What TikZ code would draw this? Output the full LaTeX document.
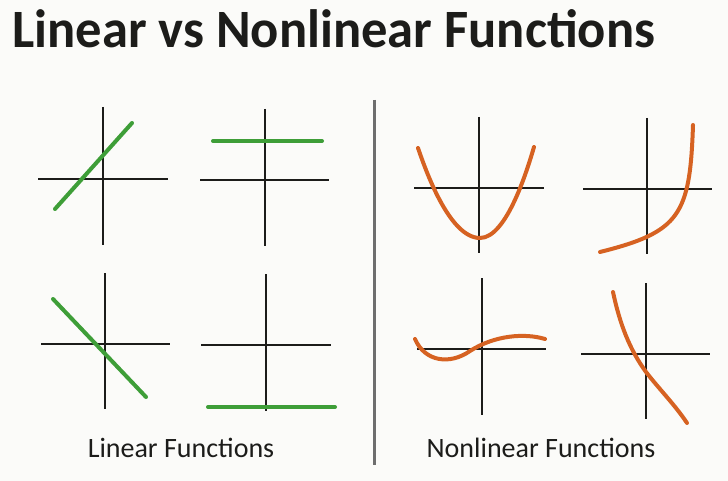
\documentclass[tikz,border=0pt]{standalone}
\usepackage{fontspec}
\setmainfont{Carlito}
\usepackage{tikz}
\usetikzlibrary{positioning}
\definecolor{paper}{RGB}{251,251,249}
\definecolor{inkblack}{RGB}{28,28,26}
\definecolor{linegreen}{RGB}{62,158,56}
\definecolor{curveorange}{RGB}{214,98,34}
\definecolor{dividergray}{RGB}{110,110,110}
\tikzset{
  every node/.style={
    font=\fontsize{28}{32}\selectfont,
    text=inkblack
  },
  heading/.style={
    font=\fontsize{54}{60}\selectfont\bfseries,
    anchor=base west,
    inner sep=0pt
  },
  caption/.style={
    anchor=base,
    inner sep=0pt
  },
  axis/.style={
    draw=inkblack,
    line width=2.4pt
  },
  linear/.style={
    draw=linegreen,
    line width=4pt,
    line cap=round
  },
  nonlinear/.style={
    draw=curveorange,
    line width=4pt,
    line cap=round
  },
  divider/.style={
    draw=dividergray,
    line width=3pt
  }
}

\begin{document}
\begin{tikzpicture}[x=1pt,y=-1pt]
  \fill[paper] (0,0) rectangle (728,481);
  \useasboundingbox (0,0) rectangle (728,481);

  \node [heading] (title) at (12,48) {\scalebox{0.974}[1]{Linear vs Nonlinear Functions}};

  % linear side
  \draw [axis] (38,179) -- (168,179) (103,107) -- (103,245);
  \draw [axis] (200,180) -- (329,180) (265,109) -- (265,246);
  \draw [axis] (41,344) -- (170,344) (105,273) -- (105,409);
  \draw [axis] (201,345) -- (331,345) (266,274) -- (266,411);
  \draw [linear] (55,209) -- (132,123);
  \draw [linear] (213,141) -- (322,141);
  \draw [linear] (53,299) -- (146,397);
  \draw [linear] (208,407) -- (335,407);
  \node [caption] (linlabel) at (181,457) {Linear Functions};

  \draw [divider] (374,100) -- (374,465);

  % nonlinear side
  \draw [axis] (414,188) -- (544,188) (479,117) -- (479,253);
  \draw [axis] (583,189) -- (712,189) (647,118) -- (647,254);
  \draw [axis] (417,349) -- (546,349) (482,278) -- (482,415);
  \draw [axis] (581,354) -- (710,354) (646,283) -- (646,419);
  \draw [nonlinear] (418,148) parabola bend (480,238) (534,147);
  \draw [nonlinear] (600,252) .. controls (680,232) and (690,215) .. (693,125);
  \draw [nonlinear] (415,339) .. controls (425,362) and (450,365) .. (470,351)
    .. controls (495,335) and (525,333) .. (545,339);
  \draw [nonlinear] (613,292) .. controls (620,325) and (630,350) .. (646,372)
    .. controls (660,390) and (675,405) .. (687,423);
  \node [caption] (nonlinlabel) at (541,457) {Nonlinear Functions};
\end{tikzpicture}
\end{document}
